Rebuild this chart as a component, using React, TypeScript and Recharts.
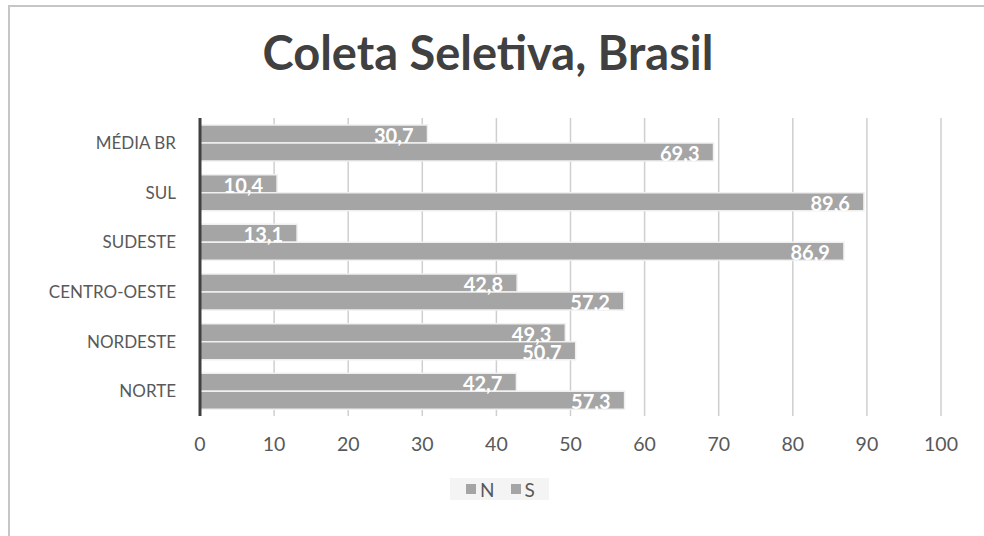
import { BarChart, Bar, XAxis, YAxis, CartesianGrid, Legend, LabelList } from 'recharts';

const regions = ['MÉDIA BR', 'SUL', 'SUDESTE', 'CENTRO-OESTE', 'NORDESTE', 'NORTE'];
const seriesN = [30.7, 10.4, 13.1, 42.8, 49.3, 42.7];
const seriesS = [69.3, 89.6, 86.9, 57.2, 50.7, 57.3];
const xTicks = [0, 10, 20, 30, 40, 50, 60, 70, 80, 90, 100];

const data = regions.map((name, i) => ({ name, N: seriesN[i], S: seriesS[i] }));

const FONT = 'Lato, "Open Sans", sans-serif';
const BAR_FILL = '#a5a5a5';

const fmt = (v: number) => v.toFixed(1).replace('.', ',');

function ValueLabel(props: any) {
  const { x, y, width, height, value } = props;
  return (
    <text
      x={x + width - 14}
      y={y + height / 2 + 1}
      textAnchor="end"
      dominantBaseline="central"
      fill="#ffffff"
      fontFamily={FONT}
      fontWeight={700}
      fontSize={20}
    >
      {fmt(Number(value))}
    </text>
  );
}

function LegendBox() {
  return (
    <div style={{ display: 'flex', justifyContent: 'center', paddingLeft: 58 }}>
      <div
        style={{
          background: '#f4f4f4',
          display: 'flex',
          alignItems: 'center',
          gap: 16,
          padding: '0 14px 0 16px',
          height: 22,
          fontFamily: FONT,
          fontSize: 19,
          color: '#595959',
        }}
      >
        {['N', 'S'].map((k) => (
          <span key={k} style={{ display: 'flex', alignItems: 'center', gap: 4 }}>
            <span style={{ width: 10, height: 10, background: BAR_FILL, display: 'inline-block' }} />
            {k}
          </span>
        ))}
      </div>
    </div>
  );
}

export default function App() {
  return (
    <div style={{ position: 'absolute', left: 0, top: 0, width: 984, height: 536, background: '#fff', overflow: 'hidden' }}>
      <div
        style={{
          position: 'absolute',
          left: 8,
          top: 5,
          width: 1000,
          height: 600,
          borderTop: '2px solid #c6c6c6',
          borderLeft: '2px solid #c6c6c6',
        }}
      />
      <div
        style={{
          position: 'absolute',
          left: 0,
          top: 24,
          width: 976,
          textAlign: 'center',
          fontFamily: FONT,
          fontWeight: 700,
          fontSize: 47,
          color: '#404040',
        }}
      >
        Coleta Seletiva, Brasil
      </div>
      <div style={{ position: 'absolute', left: 0, top: 0 }}>
        <BarChart
          width={984}
          height={536}
          data={data}
          layout="vertical"
          margin={{ top: 118, right: 43, left: 0, bottom: 36 }}
          barSize={18}
          barGap={0}
        >
          <CartesianGrid horizontal={false} stroke="#cfcfcf" strokeWidth={1.5} />
          <XAxis
            type="number"
            domain={[0, 100]}
            ticks={xTicks}
            axisLine={false}
            tickLine={false}
            tickSize={0}
            tickMargin={21}
            height={62}
            tick={{ fill: '#595959', fontSize: 19.5, fontFamily: FONT }}
          />
          <YAxis
            type="category"
            dataKey="name"
            width={200}
            axisLine={{ stroke: '#404040', strokeWidth: 3 }}
            tickLine={false}
            tickSize={0}
            tickMargin={24}
            tick={{ fill: '#595959', fontSize: 17, fontFamily: FONT }}
          />
          <Legend verticalAlign="bottom" height={22} content={() => <LegendBox />} />
          <Bar dataKey="N" fill={BAR_FILL} stroke="#f0f0f0" strokeWidth={1.5} isAnimationActive={false}>
            <LabelList dataKey="N" content={ValueLabel} />
          </Bar>
          <Bar dataKey="S" fill={BAR_FILL} stroke="#f0f0f0" strokeWidth={1.5} isAnimationActive={false}>
            <LabelList dataKey="S" content={ValueLabel} />
          </Bar>
        </BarChart>
      </div>
    </div>
  );
}
